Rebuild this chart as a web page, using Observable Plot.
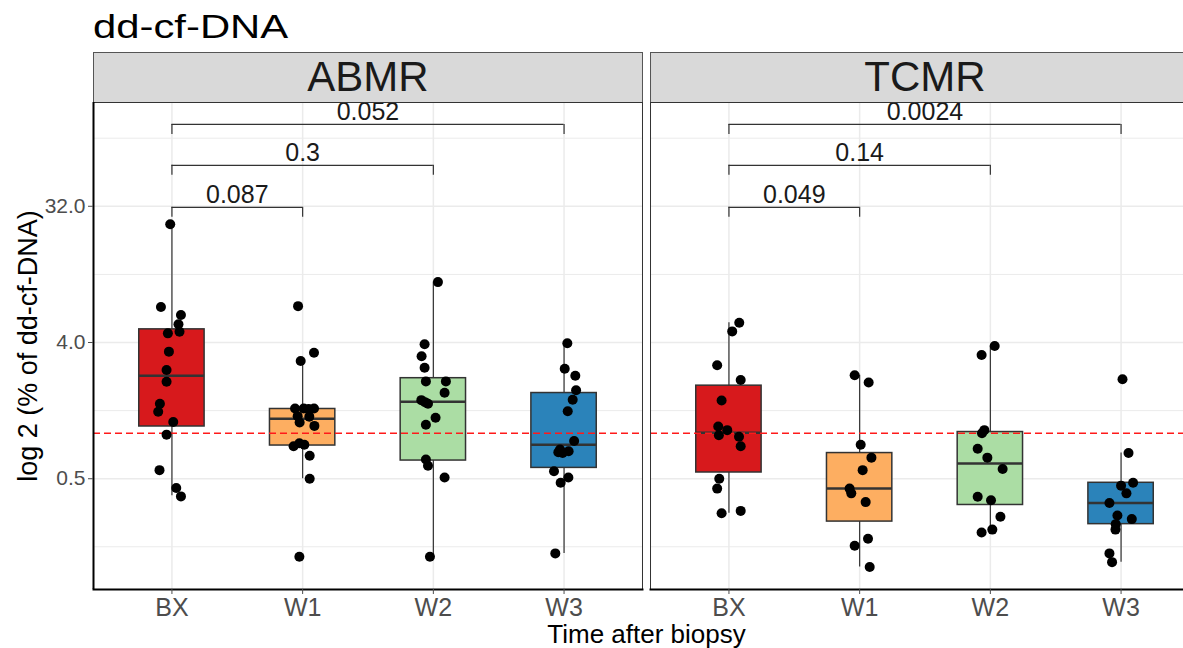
<!DOCTYPE html>
<html>
<head>
<meta charset="utf-8">
<script src="https://cdn.jsdelivr.net/npm/d3@7"></script>
<script src="https://cdn.jsdelivr.net/npm/@observablehq/plot@0.6"></script>
<style>
  html, body { margin: 0; padding: 0; background: #fff; overflow: hidden; width: 1183px; height: 648px; }
  #title { position: absolute; left: 93px; top: 0; height: 52px; font-family: "Liberation Sans", Arial, sans-serif;
           font-size: 34px; line-height: 52px; transform: scaleX(1.23); transform-origin: left center; white-space: nowrap; color: #000; }
  #chart { position: absolute; left: 0; top: 52px; }
  #chart svg { max-width: none !important; display: block; }
</style>
</head>
<body>
<div id="title">dd-cf-DNA</div>
<div id="chart"></div>
<script>
// ---------- data ----------
const panels = ["ABMR", "TCMR"];
const timepoints = ["BX", "W1", "W2", "W3"];

// dd-cf-DNA (%) per sample, with horizontal jitter (fraction of a category step)
const abmrBX = [24.3, 6.87, 6.08, 5.28, 4.72, 4.60, 3.48, 2.63, 2.20, 1.57, 1.39, 1.19, 0.98, 0.57, 0.434, 0.382];
const abmrBXJitter = [-0.013, -0.084, 0.069, 0.050, 0.058, -0.031, -0.023, -0.041, -0.041, -0.092, -0.105, 0.010, -0.041, -0.095, 0.033, 0.069];
const abmrW1 = [6.97, 3.42, 3.02, 1.46, 1.46, 1.45, 1.46, 1.30, 1.29, 1.18, 1.12, 0.82, 0.86, 0.84, 0.71, 0.50, 0.152];
const abmrW1Jitter = [-0.035, 0.087, -0.015, -0.058, 0.008, 0.046, 0.087, -0.038, 0.051, -0.023, 0.090, -0.069, -0.025, 0.013, 0.054, 0.054, -0.025];
const abmrW2 = [10.06, 3.89, 3.24, 2.72, 2.21, 2.21, 1.86, 1.66, 1.61, 1.57, 1.27, 1.14, 0.67, 0.61, 0.51, 0.152];
const abmrW2Jitter = [0.035, -0.067, -0.090, -0.067, -0.057, 0.096, 0.086, -0.092, -0.064, -0.041, 0.017, -0.057, -0.057, -0.041, 0.086, -0.026];
const abmrW3 = [3.95, 2.68, 2.41, 1.93, 1.67, 1.40, 0.89, 0.78, 0.74, 0.76, 0.75, 0.56, 0.51, 0.47, 0.16];
const abmrW3Jitter = [0.025, 0.005, 0.086, 0.092, 0.066, 0.028, 0.077, -0.031, -0.011, 0.035, -0.044, -0.077, 0.033, -0.026, -0.067];
const tcmrBX = [5.41, 4.74, 2.83, 2.26, 1.65, 1.11, 1.05, 0.97, 0.95, 0.82, 0.50, 0.43, 0.295, 0.306];
const tcmrBXJitter = [0.079, 0.025, -0.090, 0.090, -0.056, -0.082, -0.013, -0.077, 0.077, 0.090, -0.074, -0.090, -0.056, 0.090];
const tcmrW1 = [2.43, 2.17, 0.84, 0.69, 0.57, 0.43, 0.40, 0.35, 0.20, 0.18, 0.13];
const tcmrW1Jitter = [-0.038, 0.069, 0.008, 0.090, 0.023, -0.077, -0.064, 0.046, 0.064, -0.038, 0.077];
const tcmrW2 = [3.79, 3.31, 1.05, 1.00, 0.79, 0.69, 0.58, 0.38, 0.36, 0.28, 0.23, 0.22];
const tcmrW2Jitter = [0.033, -0.067, -0.046, -0.064, -0.097, -0.023, 0.094, -0.097, 0.005, 0.077, 0.015, -0.067];
const tcmrW3 = [2.28, 0.74, 0.47, 0.45, 0.40, 0.345, 0.285, 0.27, 0.25, 0.23, 0.16, 0.14];
const tcmrW3Jitter = [0.011, 0.057, 0.092, 0, 0.041, -0.089, -0.028, 0.082, -0.041, -0.043, -0.089, -0.069];

// box-plot statistics (ABMR BX, W1, W2, W3, TCMR BX, W1, W2, W3)
const whiskerLow  = [0.386, 0.50, 0.152, 0.16, 0.295, 0.13, 0.22, 0.14];
const boxQ1       = [1.11, 0.83, 0.66, 0.59, 0.55, 0.26, 0.335, 0.25];
const boxMedian   = [2.41, 1.25, 1.62, 0.84, 1.01, 0.43, 0.63, 0.345];
const boxQ3       = [4.89, 1.45, 2.32, 1.85, 2.07, 0.74, 1.02, 0.47];
const whiskerHigh = [24.3, 3.02, 10.06, 3.95, 5.41, 2.43, 3.79, 0.74];

// pairwise comparisons with BX
const comparisonTo = ["W1", "W2", "W3"];
const abmrP = ["0.087", "0.3", "0.052"];
const tcmrP = ["0.049", "0.14", "0.0024"];
const bracketLevel = [31.5, 59.8, 111.6];

const threshold = 1;
const yTicks = [0.5, 4, 32];
const yMinorTicks = [0.177, 1.414, 11.31, 90.5];
const yDomain = [0.0922, 156];
const xDomain = [0.4, 4.6];

// ---------- build tables ----------
const groups = [
  ["ABMR", "BX", abmrBX, abmrBXJitter], ["ABMR", "W1", abmrW1, abmrW1Jitter],
  ["ABMR", "W2", abmrW2, abmrW2Jitter], ["ABMR", "W3", abmrW3, abmrW3Jitter],
  ["TCMR", "BX", tcmrBX, tcmrBXJitter], ["TCMR", "W1", tcmrW1, tcmrW1Jitter],
  ["TCMR", "W2", tcmrW2, tcmrW2Jitter], ["TCMR", "W3", tcmrW3, tcmrW3Jitter]
];
const points = groups.flatMap(([panel, time, vals, jit]) =>
  vals.map((v, i) => ({panel, time, x: timepoints.indexOf(time) + 1 + jit[i], y: v})));
const boxes = boxQ1.map((q1, i) => ({
  panel: panels[Math.floor(i / 4)], time: timepoints[i % 4], xi: (i % 4) + 1,
  lo: whiskerLow[i], q1, med: boxMedian[i], q3: boxQ3[i], hi: whiskerHigh[i]
}));
const brackets = panels.flatMap((panel, pi) => comparisonTo.map((t, k) => ({
  panel, x1: 1, x2: timepoints.indexOf(t) + 1, y: bracketLevel[k], label: (pi ? tcmrP : abmrP)[k]
})));
const tip = Math.pow(2, -0.22);
const half = 0.25;

const chart = Plot.plot({
  width: 1199,
  height: 596,
  marginTop: 50,
  marginBottom: 59,
  marginLeft: 93,
  marginRight: 0,
  style: {fontFamily: "'Liberation Sans', Arial, sans-serif", background: "white", maxWidth: "none"},
  fx: {domain: panels, paddingInner: 0.0144, paddingOuter: 0, round: false, axis: null, label: null},
  x: {domain: xDomain, axis: null},
  y: {type: "log", base: 2, domain: yDomain, axis: null},
  color: {domain: timepoints, range: ["#D7191C", "#FDAE61", "#ABDDA4", "#2B83BA"]},
  marks: [
    // strips
    Plot.frame({fill: "#D9D9D9", stroke: "#555", strokeWidth: 1, insetTop: -50, insetBottom: 487}),
    Plot.text(panels, {fx: d => d, text: d => d, frameAnchor: "top", dy: -25, lineAnchor: "middle", fontSize: 42, fill: "#1A1A1A"}),
    // grid
    Plot.ruleY(yMinorTicks, {stroke: "#EBEBEB", strokeWidth: 1}),
    Plot.ruleY(yTicks, {stroke: "#EBEBEB", strokeWidth: 1.5}),
    Plot.ruleX([1, 2, 3, 4], {stroke: "#EBEBEB", strokeWidth: 1.5}),
    // boxes
    Plot.ruleX(boxes, {fx: "panel", x: "xi", y1: "lo", y2: "hi", stroke: "#333", strokeWidth: 1.2}),
    Plot.rect(boxes, {fx: "panel", x1: d => d.xi - half, x2: d => d.xi + half, y1: "q1", y2: "q3", fill: "time", stroke: "#333", strokeWidth: 1.5}),
    Plot.ruleY(boxes, {fx: "panel", y: "med", x1: d => d.xi - half, x2: d => d.xi + half, stroke: "#333", strokeWidth: 2.5}),
    // threshold
    Plot.ruleY([threshold], {stroke: "#FF1A1A", strokeWidth: 1.5, strokeDasharray: "7,4"}),
    // points
    Plot.dot(points, {fx: "panel", x: "x", y: "y", r: 5, fill: "black", stroke: "none"}),
    // brackets
    Plot.ruleY(brackets, {fx: "panel", x1: "x1", x2: "x2", y: "y", stroke: "#333", strokeWidth: 1.2}),
    Plot.ruleX(brackets, {fx: "panel", x: "x1", y1: d => d.y * tip, y2: "y", stroke: "#333", strokeWidth: 1.2}),
    Plot.ruleX(brackets, {fx: "panel", x: "x2", y1: d => d.y * tip, y2: "y", stroke: "#333", strokeWidth: 1.2}),
    Plot.text(brackets, {fx: "panel", x: d => (d.x1 + d.x2) / 2, y: "y", text: "label", dy: -4, lineAnchor: "bottom", fontSize: 25, fill: "#1A1A1A"}),
    // panel borders and axis lines
    Plot.frame({stroke: "#333", strokeWidth: 1}),
    Plot.frame({anchor: "bottom", stroke: "black", strokeWidth: 2}),
    Plot.ruleX([panels[0]], {fx: d => d, x: () => xDomain[0], stroke: "black", strokeWidth: 2}),
    // axes
    Plot.axisY(yTicks, {anchor: "left", tickFormat: d3.format(".1f"), tickSize: 5, tickPadding: 3, fontSize: 21, color: "#4D4D4D", label: null}),
    Plot.axisX([1, 2, 3, 4], {anchor: "bottom", tickFormat: i => timepoints[i - 1], tickSize: 5, tickPadding: 4, fontSize: 25, color: "#4D4D4D", label: null}),
    Plot.axisFx({anchor: "bottom", tickSize: 0, tickFormat: () => "", label: "Time after biopsy", labelAnchor: "center", labelOffset: 53, fontSize: 26, color: "black"}),
    Plot.text(["log 2 (% of dd-cf-DNA)"], {fx: () => panels[0], text: d => d, frameAnchor: "left", rotate: -90, dx: -65, lineAnchor: "middle", textAnchor: "middle", fontSize: 27, fill: "black"})
  ]
});
document.getElementById("chart").appendChild(chart);
</script>
</body>
</html>
